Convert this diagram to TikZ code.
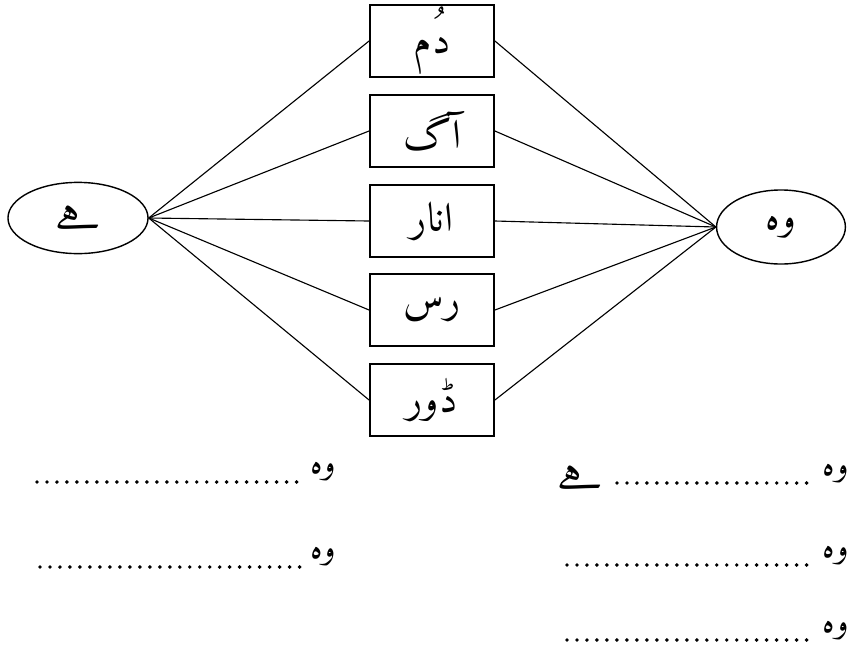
\documentclass[tikz,border=0pt]{standalone}
\usepackage{fontspec}
\IfFontExistsTF{Amiri}
  {\newfontfamily\urdufont[Script=Arabic,Language=Urdu]{Amiri}}
  {\newfontfamily\urdufont[Script=Arabic]{DejaVu Sans}}
\TeXXeTstate=1
\usetikzlibrary{shapes.geometric}

\begin{document}
\begin{tikzpicture}[x=0.025cm,y=-0.025cm,
    wordbox/.style={draw,line width=1.3pt,minimum width=3.1cm,minimum height=1.8cm,inner sep=0pt,font=\urdufont\fontsize{29}{30}\selectfont},
    endoval/.style={draw,ellipse,line width=1pt,inner sep=0pt,font=\urdufont\fontsize{28}{30}\selectfont},
    spoke/.style={line width=0.8pt},
    blank/.style={line width=2.8pt,line cap=round,dash pattern=on 0pt off 7.1pt},
    answer/.style={font=\urdufont\fontsize{24}{26}\selectfont,inner sep=0pt}]
  \useasboundingbox (0,0) rectangle (850,660);

  \node [endoval,minimum width=3.5cm,minimum height=1.78cm] (hai) at (78,218) {\beginR ہے\endR};
  \node [endoval,minimum width=3.22cm,minimum height=1.85cm] (woh) at (781,227) {\beginR وہ\endR};

  \node [wordbox] (dum) at (432,41) {\beginR دُم\endR};
  \node [wordbox] (aag) at (432,131) {\beginR آگ\endR};
  \node [wordbox] (anar) at (432,221) {\beginR انار\endR};
  \node [wordbox] (ras) at (432,310) {\beginR رس\endR};
  \node [wordbox] (dor) at (432,400) {\beginR ڈور\endR};

  \draw [spoke] (hai.east)--(dum.west);
  \draw [spoke] (hai.east)--(aag.west);
  \draw [spoke] (hai.east)--(anar.west);
  \draw [spoke] (hai.east)--(ras.west);
  \draw [spoke] (hai.east)--(dor.west);

  \draw [spoke] (dum.east)--(woh.west);
  \draw [spoke] (aag.east)--(woh.west);
  \draw [spoke] (anar.east)--(woh.west);
  \draw [spoke] (ras.east)--(woh.west);
  \draw [spoke] (dor.east)--(woh.west);

  % answer lines
  \node [answer,anchor=west] (w1) at (310,472) {\beginR وہ\endR};
  \node [answer,anchor=west] (w2) at (310,557) {\beginR وہ\endR};
  \coordinate (d1) at (37,482);
  \coordinate (d2) at (40,567);
  \draw [blank] (d1)--(300,482);
  \draw [blank] (d2)--(302,567);

  \node [answer,anchor=east] (w3) at (849,474) {\beginR وہ\endR};
  \node [answer,anchor=east] (w4) at (849,556) {\beginR وہ\endR};
  \node [answer,anchor=east] (w5) at (849,631) {\beginR وہ\endR};
  \node [answer,anchor=east,font=\urdufont\fontsize{28}{30}\selectfont] (hai2) at (603,478) {\beginR ہے\endR};
  \coordinate (d3) at (617,483);
  \coordinate (d4) at (567,565);
  \coordinate (d5) at (567,640);
  \draw [blank] (d3)--(810,483);
  \draw [blank] (d4)--(810,565);
  \draw [blank] (d5)--(810,640);
\end{tikzpicture}
\end{document}
